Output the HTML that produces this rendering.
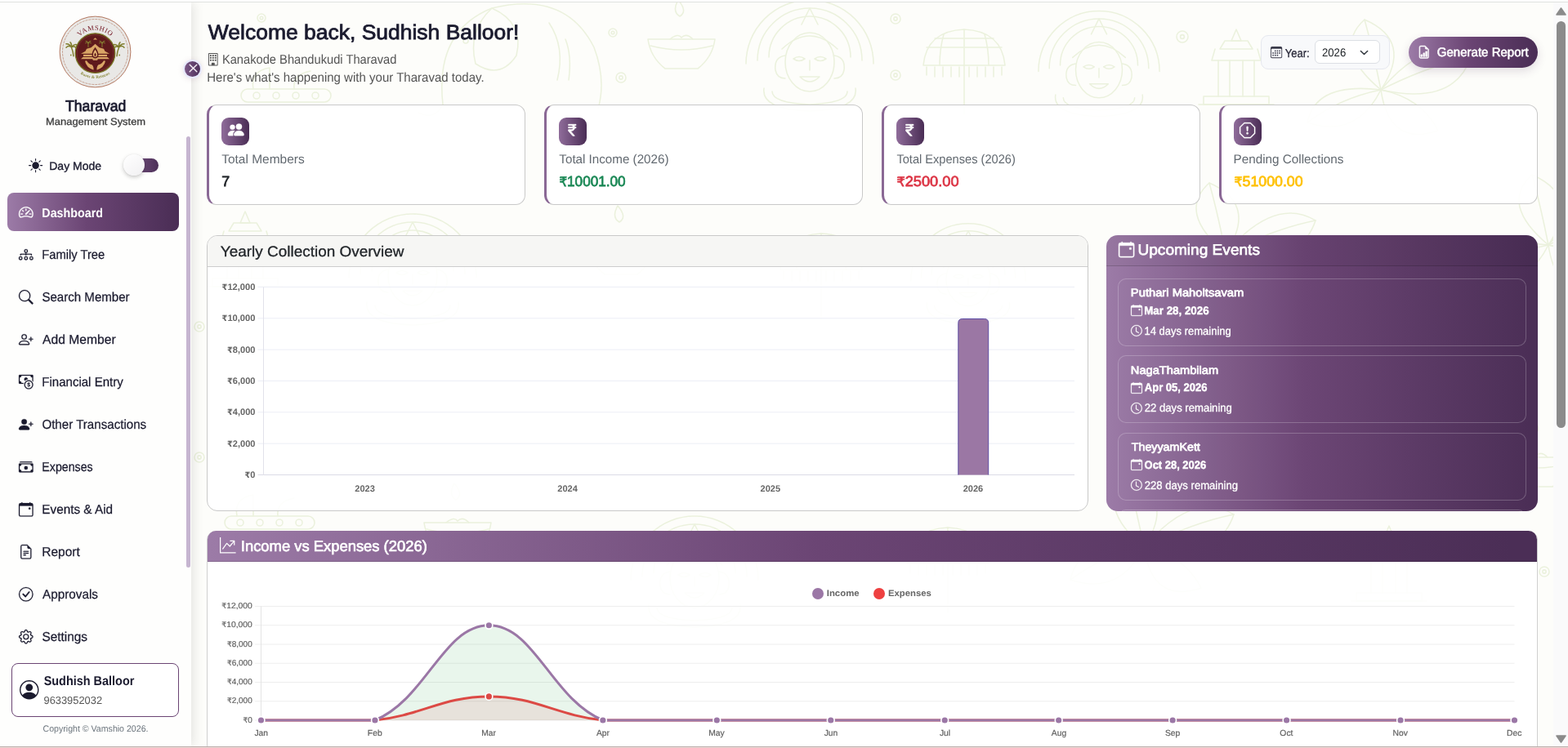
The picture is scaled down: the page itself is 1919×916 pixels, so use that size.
<!DOCTYPE html>
<html lang="en"><head><meta charset="utf-8"><title>Tharavad Management System - Dashboard</title>
<style>
*{box-sizing:border-box;margin:0;padding:0}
html,body{width:1919px;height:916px;overflow:hidden;background:#fdfdfb}
body{font-family:"Liberation Sans","DejaVu Sans",sans-serif;}
#app{position:relative;width:1919px;height:916px;overflow:hidden;background:#fdfdfb}
.a{position:absolute}
.t{position:absolute;white-space:nowrap;line-height:1;transform-origin:0 0;text-rendering:geometricPrecision}
.ic{position:absolute;display:block;overflow:visible}
.g{background:linear-gradient(90deg,#9c7ba7 0%,#6b4574 46%,#4b2e56 98%)}
.rs{font-family:"DejaVu Sans",sans-serif}
</style></head>
<body><div id="app">
<div class="a" id="main-bg" style="left:234px;top:3px;width:1667px;height:911px;background:#fdfdfa"></div>
<svg class="a" style="left:234px;top:3px;width:1667px;height:911px" viewBox="234 3 1667 911" fill="none" stroke="#e9f0d9" stroke-width="1.6" stroke-linecap="round" stroke-linejoin="round" opacity="0.85"><g transform="translate(350,117)"><rect x="-55" y="-8" width="110" height="16" rx="8"/><circle cx="-36" cy="0" r="4"/><circle cx="-12" cy="0" r="4"/><circle cx="12" cy="0" r="4"/><circle cx="36" cy="0" r="4"/><path d="M-40 -8 Q-44 -30 -20 -34 M-20 -8 V-34 M10 -8 Q8 -26 30 -30"/></g><g transform="translate(632,58)"><path d="M-90 70 Q-100 -20 -30 -48 Q60 -70 95 0 Q110 40 100 75"/><path d="M-30 -48 Q-60 -20 -50 20 Q-20 40 0 10 Q10 -30 -30 -48"/><path d="M40 -30 q20 30 10 70 M60 -10 q8 20 4 50"/><path d="M-90 70 q-10 20 -30 10"/><circle cx="-62" cy="-8" r="3"/></g><g transform="translate(834,48)"><path d="M-41 0 H41 Q38 22 20 36 H-20 Q-38 22 -41 0 Z"/><path d="M-38 8 Q0 18 38 8"/><path d="M-14 0 Q-4 -8 0 -2 Q6 -8 14 0"/><path d="M-4 -48 q-8 14 2 20 q10 -6 -2 -20z"/></g><g transform="translate(991,68) scale(1.0)"><ellipse cx="0" cy="8" rx="30" ry="36"/><path d="M-78 10 A78 78 0 0 1 78 10"/><path d="M-64 6 A64 64 0 0 1 64 6"/><path d="M-50 2 A50 50 0 0 1 50 2"/><path d="M-34 -8 Q0 -40 34 -8"/><path d="M-10 -38 L0 -58 L10 -38"/><path d="M-30 0 q-14 2 -12 18 q2 10 12 10 M30 0 q14 2 12 18 q-2 10 -12 10"/><path d="M-20 4 q7 -5 14 0 q-7 5 -14 0 M6 4 q7 -5 14 0 q-7 5 -14 0"/><path d="M-12 26 H12 Q0 38 -12 26"/><path d="M0 6 v12"/><path d="M-56 40 Q-60 66 0 68 Q60 66 56 40"/><path d="M-46 44 Q-46 58 0 60 Q46 58 46 44"/></g><g transform="translate(1180,80)"><path d="M-50 0 Q-46 -42 0 -44 Q46 -42 50 0 Z"/><path d="M0 -44 V0 M-25 -38 Q-30 -20 -30 0 M25 -38 Q30 -20 30 0 M-46 -22 H46 M-36 -33 H36"/><path d="M-46 2 v10 M-36 2 v12 M-26 2 v12 M-16 2 v12 M-6 2 v12 M6 2 v12 M16 2 v12 M26 2 v12 M36 2 v12 M46 2 v10"/><path d="M0 0 V60"/></g><g transform="translate(1345,78) scale(0.95)"><ellipse cx="0" cy="8" rx="30" ry="36"/><path d="M-78 10 A78 78 0 0 1 78 10"/><path d="M-64 6 A64 64 0 0 1 64 6"/><path d="M-50 2 A50 50 0 0 1 50 2"/><path d="M-34 -8 Q0 -40 34 -8"/><path d="M-10 -38 L0 -58 L10 -38"/><path d="M-30 0 q-14 2 -12 18 q2 10 12 10 M30 0 q14 2 12 18 q-2 10 -12 10"/><path d="M-20 4 q7 -5 14 0 q-7 5 -14 0 M6 4 q7 -5 14 0 q-7 5 -14 0"/><path d="M-12 26 H12 Q0 38 -12 26"/><path d="M0 6 v12"/><path d="M-56 40 Q-60 66 0 68 Q60 66 56 40"/><path d="M-46 44 Q-46 58 0 60 Q46 58 46 44"/></g><g transform="translate(1513,82)"><path d="M0 -46 l-6 14 h12z"/><path d="M-14 -32 h28 l6 10 h-40z"/><path d="M-26 -22 L-30 -8 H30 L26 -22"/><path d="M-22 -8 V36 M22 -8 V36 M-8 -8 V36 M8 -8 V36"/><path d="M-40 36 H40 V46 H-40 Z"/><path d="M-46 46 H46"/></g><g transform="translate(1690,110)"><path d="M0 0 Q-60 -50 -20 -86 Q40 -60 0 0"/><path d="M0 0 Q-10 -50 -20 -86"/><path d="M0 0 Q60 -70 110 -40 Q90 20 0 0"/><path d="M0 0 Q60 -30 110 -40"/><path d="M0 0 Q-80 -10 -90 40 Q-30 60 0 0"/><path d="M0 0 Q-50 10 -90 40"/><path d="M0 0 Q50 10 70 50 Q10 70 0 0"/></g><circle cx="1096" cy="23" r="6"/><circle cx="1096" cy="23" r="2.1"/><circle cx="1096" cy="92" r="6"/><circle cx="1096" cy="92" r="2.1"/><circle cx="1447" cy="45" r="7"/><circle cx="1447" cy="45" r="2.4"/><circle cx="320" cy="22" r="5"/><circle cx="320" cy="22" r="1.8"/><circle cx="750" cy="40" r="5"/><circle cx="750" cy="40" r="1.8"/><circle cx="760" cy="95" r="6"/><circle cx="760" cy="95" r="2.1"/><g transform="translate(505,330) scale(1.0)"><ellipse cx="0" cy="8" rx="30" ry="36"/><path d="M-78 10 A78 78 0 0 1 78 10"/><path d="M-64 6 A64 64 0 0 1 64 6"/><path d="M-50 2 A50 50 0 0 1 50 2"/><path d="M-34 -8 Q0 -40 34 -8"/><path d="M-10 -38 L0 -58 L10 -38"/><path d="M-30 0 q-14 2 -12 18 q2 10 12 10 M30 0 q14 2 12 18 q-2 10 -12 10"/><path d="M-20 4 q7 -5 14 0 q-7 5 -14 0 M6 4 q7 -5 14 0 q-7 5 -14 0"/><path d="M-12 26 H12 Q0 38 -12 26"/><path d="M0 6 v12"/><path d="M-56 40 Q-60 66 0 68 Q60 66 56 40"/><path d="M-46 44 Q-46 58 0 60 Q46 58 46 44"/></g><g transform="translate(760,300)"><path d="M-41 0 H41 Q38 22 20 36 H-20 Q-38 22 -41 0 Z"/><path d="M-38 8 Q0 18 38 8"/><path d="M-14 0 Q-4 -8 0 -2 Q6 -8 14 0"/><path d="M-4 -48 q-8 14 2 20 q10 -6 -2 -20z"/></g><g transform="translate(1005,330)"><path d="M-50 0 Q-46 -42 0 -44 Q46 -42 50 0 Z"/><path d="M0 -44 V0 M-25 -38 Q-30 -20 -30 0 M25 -38 Q30 -20 30 0 M-46 -22 H46 M-36 -33 H36"/><path d="M-46 2 v10 M-36 2 v12 M-26 2 v12 M-16 2 v12 M-6 2 v12 M6 2 v12 M16 2 v12 M26 2 v12 M36 2 v12 M46 2 v10"/><path d="M0 0 V60"/></g><g transform="translate(1185,335) scale(0.9)"><ellipse cx="0" cy="8" rx="30" ry="36"/><path d="M-78 10 A78 78 0 0 1 78 10"/><path d="M-64 6 A64 64 0 0 1 64 6"/><path d="M-50 2 A50 50 0 0 1 50 2"/><path d="M-34 -8 Q0 -40 34 -8"/><path d="M-10 -38 L0 -58 L10 -38"/><path d="M-30 0 q-14 2 -12 18 q2 10 12 10 M30 0 q14 2 12 18 q-2 10 -12 10"/><path d="M-20 4 q7 -5 14 0 q-7 5 -14 0 M6 4 q7 -5 14 0 q-7 5 -14 0"/><path d="M-12 26 H12 Q0 38 -12 26"/><path d="M0 6 v12"/><path d="M-56 40 Q-60 66 0 68 Q60 66 56 40"/><path d="M-46 44 Q-46 58 0 60 Q46 58 46 44"/></g><g transform="translate(1500,310)"><path d="M0 0 Q-60 -50 -20 -86 Q40 -60 0 0"/><path d="M0 0 Q-10 -50 -20 -86"/><path d="M0 0 Q60 -70 110 -40 Q90 20 0 0"/><path d="M0 0 Q60 -30 110 -40"/><path d="M0 0 Q-80 -10 -90 40 Q-30 60 0 0"/><path d="M0 0 Q-50 10 -90 40"/><path d="M0 0 Q50 10 70 50 Q10 70 0 0"/></g><g transform="translate(300,305)"><path d="M0 -46 l-6 14 h12z"/><path d="M-14 -32 h28 l6 10 h-40z"/><path d="M-26 -22 L-30 -8 H30 L26 -22"/><path d="M-22 -8 V36 M22 -8 V36 M-8 -8 V36 M8 -8 V36"/><path d="M-40 36 H40 V46 H-40 Z"/><path d="M-46 46 H46"/></g><g transform="translate(330,640)"><rect x="-55" y="-8" width="110" height="16" rx="8"/><circle cx="-36" cy="0" r="4"/><circle cx="-12" cy="0" r="4"/><circle cx="12" cy="0" r="4"/><circle cx="36" cy="0" r="4"/><path d="M-40 -8 Q-44 -30 -20 -34 M-20 -8 V-34 M10 -8 Q8 -26 30 -30"/></g><g transform="translate(560,640)"><path d="M-41 0 H41 Q38 22 20 36 H-20 Q-38 22 -41 0 Z"/><path d="M-38 8 Q0 18 38 8"/><path d="M-14 0 Q-4 -8 0 -2 Q6 -8 14 0"/><path d="M-4 -48 q-8 14 2 20 q10 -6 -2 -20z"/></g><g transform="translate(850,700) scale(1.0)"><ellipse cx="0" cy="8" rx="30" ry="36"/><path d="M-78 10 A78 78 0 0 1 78 10"/><path d="M-64 6 A64 64 0 0 1 64 6"/><path d="M-50 2 A50 50 0 0 1 50 2"/><path d="M-34 -8 Q0 -40 34 -8"/><path d="M-10 -38 L0 -58 L10 -38"/><path d="M-30 0 q-14 2 -12 18 q2 10 12 10 M30 0 q14 2 12 18 q-2 10 -12 10"/><path d="M-20 4 q7 -5 14 0 q-7 5 -14 0 M6 4 q7 -5 14 0 q-7 5 -14 0"/><path d="M-12 26 H12 Q0 38 -12 26"/><path d="M0 6 v12"/><path d="M-56 40 Q-60 66 0 68 Q60 66 56 40"/><path d="M-46 44 Q-46 58 0 60 Q46 58 46 44"/></g><g transform="translate(1160,690)"><path d="M-50 0 Q-46 -42 0 -44 Q46 -42 50 0 Z"/><path d="M0 -44 V0 M-25 -38 Q-30 -20 -30 0 M25 -38 Q30 -20 30 0 M-46 -22 H46 M-36 -33 H36"/><path d="M-46 2 v10 M-36 2 v12 M-26 2 v12 M-16 2 v12 M-6 2 v12 M6 2 v12 M16 2 v12 M26 2 v12 M36 2 v12 M46 2 v10"/><path d="M0 0 V60"/></g><g transform="translate(1400,670)"><path d="M0 0 Q-60 -50 -20 -86 Q40 -60 0 0"/><path d="M0 0 Q-10 -50 -20 -86"/><path d="M0 0 Q60 -70 110 -40 Q90 20 0 0"/><path d="M0 0 Q60 -30 110 -40"/><path d="M0 0 Q-80 -10 -90 40 Q-30 60 0 0"/><path d="M0 0 Q-50 10 -90 40"/><path d="M0 0 Q50 10 70 50 Q10 70 0 0"/></g><g transform="translate(1700,690)"><path d="M0 -46 l-6 14 h12z"/><path d="M-14 -32 h28 l6 10 h-40z"/><path d="M-26 -22 L-30 -8 H30 L26 -22"/><path d="M-22 -8 V36 M22 -8 V36 M-8 -8 V36 M8 -8 V36"/><path d="M-40 36 H40 V46 H-40 Z"/><path d="M-46 46 H46"/></g><g transform="translate(1880,560)"><path d="M-41 0 H41 Q38 22 20 36 H-20 Q-38 22 -41 0 Z"/><path d="M-38 8 Q0 18 38 8"/><path d="M-14 0 Q-4 -8 0 -2 Q6 -8 14 0"/><path d="M-4 -48 q-8 14 2 20 q10 -6 -2 -20z"/></g><g transform="translate(1895,300)"><path d="M0 0 Q-60 -50 -20 -86 Q40 -60 0 0"/><path d="M0 0 Q-10 -50 -20 -86"/><path d="M0 0 Q60 -70 110 -40 Q90 20 0 0"/><path d="M0 0 Q60 -30 110 -40"/><path d="M0 0 Q-80 -10 -90 40 Q-30 60 0 0"/><path d="M0 0 Q-50 10 -90 40"/><path d="M0 0 Q50 10 70 50 Q10 70 0 0"/></g><circle cx="244" cy="400" r="6"/><circle cx="244" cy="400" r="2.1"/><circle cx="244" cy="560" r="6"/><circle cx="244" cy="560" r="2.1"/><circle cx="1890" cy="700" r="6"/><circle cx="1890" cy="700" r="2.1"/></svg>
<div class="a" id="sidebar" style="left:0;top:3px;width:234px;height:911px;background:#fefefd;box-shadow:3px 0 13px rgba(0,0,0,.10)"></div>
<div class="a" style="left:228px;top:167px;width:5px;height:528px;border-radius:3px;background:#c6b5d0"></div>
<svg class="a" id="logo" style="left:72.1px;top:19.1px;width:89px;height:89px" viewBox="-44.5 -44.5 89 89" >
<defs><path id="arcT" d="M -25.3 -9.500 A 27.200 27.200 0 0 1 25.3 -9.500"/><path id="arcB" d="M -25 20.800 A 32.500 32.500 0 0 0 25 20.800"/></defs>
<circle r="43.4" fill="#e9e8e6" stroke="#a9684d" stroke-width="0.9"/>
<circle r="40" fill="none" stroke="#b0745a" stroke-width="0.6" stroke-dasharray="3 1"/>
<circle cy="1.6" r="24.3" fill="#5f1a1c" stroke="#7c7b2a" stroke-width="1.3"/>
<circle cy="1.6" r="22.3" fill="none" stroke="#7a3530" stroke-width="0.8"/>
<text font-family="'Liberation Serif',serif" font-size="8.6" fill="#7a2430" text-anchor="middle" letter-spacing="0.5"><textPath href="#arcT" startOffset="50%">VAMSHIO</textPath></text>
<text font-family="'Liberation Serif',serif" font-size="5" font-weight="700" fill="#8a8a3c" text-anchor="middle" letter-spacing="0.15"><textPath href="#arcB" startOffset="50%">Roots &amp; Returns</textPath></text>
<g transform="translate(0,2.2)">
<g fill="#d9a566">
<path d="M0 -12 L5 -7.500 L10.500 -6 L12 -3 L17.500 0 L-17.500 0 L-12 -3 L-10.500 -6 L-5 -7.500 Z"/>
<rect x="-14.500" y="1.2" width="29" height="2.2"/>
<path d="M-17.500 6.600 L-15 4.300 H15 L17.500 6.600 Z"/>
<path d="M-12.500 9 Q-11 17 -2 20 Q-1.500 16 -4 13.500 Q-8 13 -10.500 8.500 Z"/>
<path d="M12.500 9 Q11 17 2 20 Q1.500 16 4 13.500 Q8 13 10.500 8.500 Z"/>
<path d="M0 -19.500 l2.600 2.400 h-5.200 z"/>
</g>
<path d="M0 -8 Q5.500 -1 3.600 4 Q0 7.500 -3.600 4 Q-5.500 -1 0 -8Z" fill="#5f1a1c"/>
<path d="M0 -5 Q3.500 0 2.300 3 Q0 5.200 -2.300 3 Q-3.500 0 0 -5Z" fill="#e8b877"/>
<path d="M0 -1.500 Q1.500 1 1 2.500 Q0 3.500 -1 2.500 Q-1.500 1 0 -1.500Z" fill="#5f1a1c"/>
<path d="M-3.500 6.500 H3.500 L2.500 8 H-2.500 Z" fill="#e8b877"/>
<g fill="none" stroke="#7f7d2c" stroke-width="1.5" stroke-linecap="round">
<path d="M-26.500 3 Q-27 -3 -29 -7.500"/><path d="M-29 -8 q-4 -2.500 -6.500 0.500 M-29 -8 q-3 -4.500 -6.500 -4 M-29 -8 q0.500 -4 -1.500 -6 M-29 -8 q3.500 -2 5.500 1 M-29 -8 q3 -4 6 -3"/>
<path d="M26.500 3 Q27 -3 29 -7.500"/><path d="M29 -8 q4 -2.500 6.500 0.500 M29 -8 q3 -4.500 6.500 -4 M29 -8 q-0.500 -4 1.500 -6 M29 -8 q-3.500 -2 -5.500 1 M29 -8 q-3 -4 -6 -3"/>
</g>
<g fill="none" stroke="#8a8a33" stroke-width="0.9" stroke-linecap="round">
<path d="M-8.500 -8 v-5 m0 0 q-2 -2 -3.500 0 m3.500 0 q2 -2 3.500 0 m-3.500 0 q-1 -3 -3 -2.500 m3 2.500 q1 -3 3 -2.500"/>
<path d="M8.500 -8 v-5 m0 0 q-2 -2 -3.500 0 m3.500 0 q2 -2 3.500 0 m-3.500 0 q-1 -3 -3 -2.500 m3 2.500 q1 -3 3 -2.500"/>
</g>
<circle cx="-29.700" cy="1.800" r="0.9" fill="#8a8a33"/><circle cx="29.700" cy="1.800" r="0.9" fill="#8a8a33"/>
</g>
</svg>
<div class="t" style="left:80px;top:121.09px;font-size:18.8px;color:#1a1a2e;-webkit-text-stroke:0.75px #1a1a2e;transform:translateX(0.06px) scaleX(0.9368);">Tharavad</div>
<div class="t" style="left:56px;top:142.59px;font-size:12.3px;color:#3d3d3d;-webkit-text-stroke:0.30px #3d3d3d;transform:translateX(0.10px) scaleX(1.0498);">Management System</div>
<svg class="ic" style="left:35.20px;top:194.00px;width:17.2px;height:17.2px;" viewBox="0 0 16 16" fill="#1a1a2e"><path d="M12 8a4 4 0 1 1-8 0 4 4 0 0 1 8 0M8 0a.5.5 0 0 1 .5.5v2a.5.5 0 0 1-1 0v-2A.5.5 0 0 1 8 0m0 13a.5.5 0 0 1 .5.5v2a.5.5 0 0 1-1 0v-2A.5.5 0 0 1 8 13m8-5a.5.5 0 0 1-.5.5h-2a.5.5 0 0 1 0-1h2a.5.5 0 0 1 .5.5M3 8a.5.5 0 0 1-.5.5h-2a.5.5 0 0 1 0-1h2A.5.5 0 0 1 3 8m10.657-5.657a.5.5 0 0 1 0 .707l-1.414 1.415a.5.5 0 1 1-.707-.708l1.414-1.414a.5.5 0 0 1 .707 0m-9.193 9.193a.5.5 0 0 1 0 .707L3.05 13.657a.5.5 0 0 1-.707-.707l1.414-1.414a.5.5 0 0 1 .707 0m9.193 2.121a.5.5 0 0 1-.707 0l-1.414-1.414a.5.5 0 0 1 .707-.707l1.414 1.414a.5.5 0 0 1 0 .707M4.464 4.465a.5.5 0 0 1-.707 0L2.343 3.05a.5.5 0 1 1 .707-.707l1.414 1.414a.5.5 0 0 1 0 .708"/></svg>
<div class="t" style="left:60px;top:197.23px;font-size:13.9px;color:#1a1a2e;-webkit-text-stroke:0.35px #1a1a2e;transform:translateX(0.23px) scaleX(1.0080);">Day Mode</div>
<div class="a" style="left:161px;top:193.5px;width:33px;height:17.500px;border-radius:9px;background:linear-gradient(90deg,#7a5685,#4c2f57)"></div>
<div class="a" style="left:151px;top:189.100px;width:25.800px;height:25.800px;border-radius:50%;background:linear-gradient(145deg,#ffffff,#f1f0f2);box-shadow:0 2px 5px rgba(0,0,0,.22),0 0 1px rgba(0,0,0,.15)"></div>
<div class="a g" style="left:9px;top:236px;width:210px;height:47px;border-radius:8px"></div>
<svg class="ic" style="left:23.20px;top:250.50px;width:17.6px;height:17.6px;stroke:#fff;stroke-width:0.3;" viewBox="0 0 16 16" fill="#fff"><path d="M8 4a.5.5 0 0 1 .5.5V6a.5.5 0 0 1-1 0V4.5A.5.5 0 0 1 8 4M3.732 5.732a.5.5 0 0 1 .707 0l.915.914a.5.5 0 1 1-.708.708l-.914-.915a.5.5 0 0 1 0-.707M2 10a.5.5 0 0 1 .5-.5h1.586a.5.5 0 0 1 0 1H2.5A.5.5 0 0 1 2 10m9.500 0a.5.5 0 0 1 .5-.5h1.500a.5.5 0 0 1 0 1H12a.5.5 0 0 1-.5-.5m.754-4.246a.39.39 0 0 0-.527-.02L7.547 9.31a.91.91 0 1 0 1.302 1.258l3.434-4.297a.39.39 0 0 0-.029-.518z"/><path fill-rule="evenodd" d="M0 10a8 8 0 1 1 15.547 2.661c-.442 1.253-1.845 1.602-2.932 1.25C11.309 13.488 9.475 13 8 13c-1.474 0-3.31.488-4.615.911-1.087.352-2.49.003-2.932-1.25A8 8 0 0 1 0 10m8-7a7 7 0 0 0-6.603 9.329c.203.575.923.876 1.68.63C4.397 12.533 6.358 12 8 12s3.604.532 4.923.96c.757.245 1.477-.056 1.68-.631A7 7 0 0 0 8 3"/></svg>
<div class="t" style="left:51px;top:253.79px;font-size:15.6px;color:#fff;font-weight:700;transform:translateX(0.34px) scaleX(0.9158);">Dashboard</div>
<svg class="ic" style="left:23.20px;top:302.50px;width:17.6px;height:17.6px;stroke:#1a1a2e;stroke-width:0.2;" viewBox="0 0 16 16" fill="#1a1a2e"><path fill-rule="evenodd" d="M6 3.5A1.5 1.5 0 0 1 7.5 2h1A1.5 1.5 0 0 1 10 3.5v1A1.5 1.5 0 0 1 8.5 6v1H14a.5.5 0 0 1 .5.5v1a.5.5 0 0 1-1 0V8h-5v.5a.5.5 0 0 1-1 0V8h-5v.5a.5.5 0 0 1-1 0v-1A.5.5 0 0 1 2 7h5.5V6A1.5 1.5 0 0 1 6 4.5zM8.5 5a.5.5 0 0 0 .5-.5v-1a.5.5 0 0 0-.5-.5h-1a.5.5 0 0 0-.5.5v1a.5.5 0 0 0 .5.5zM0 11.5A1.5 1.5 0 0 1 1.5 10h1A1.5 1.5 0 0 1 4 11.5v1A1.5 1.5 0 0 1 2.5 14h-1A1.5 1.5 0 0 1 0 12.5zm1.5-.5a.5.5 0 0 0-.5.5v1a.5.5 0 0 0 .5.5h1a.5.5 0 0 0 .5-.5v-1a.5.5 0 0 0-.5-.5zm4.5.5A1.5 1.5 0 0 1 7.5 10h1a1.5 1.5 0 0 1 1.5 1.5v1A1.5 1.5 0 0 1 8.5 14h-1A1.5 1.5 0 0 1 6 12.5zm1.5-.5a.5.5 0 0 0-.5.5v1a.5.5 0 0 0 .5.5h1a.5.5 0 0 0 .5-.5v-1a.5.5 0 0 0-.5-.5zm4.5.5a1.5 1.5 0 0 1 1.5-1.5h1a1.5 1.5 0 0 1 1.5 1.5v1a1.5 1.5 0 0 1-1.5 1.5h-1a1.5 1.5 0 0 1-1.5-1.5zm1.5-.5a.5.5 0 0 0-.5.5v1a.5.5 0 0 0 .5.5h1a.5.5 0 0 0 .5-.5v-1a.5.5 0 0 0-.5-.5z"/></svg>
<div class="t" style="left:51px;top:304.63px;font-size:15.8px;color:#1a1a2e;-webkit-text-stroke:0.25px #1a1a2e;transform:translateX(0.31px) scaleX(0.9323);">Family Tree</div>
<svg class="ic" style="left:23.20px;top:354.50px;width:17.6px;height:17.6px;stroke:#1a1a2e;stroke-width:0.2;" viewBox="0 0 16 16" fill="#1a1a2e"><path d="M11.742 10.344a6.5 6.5 0 1 0-1.397 1.398h-.001q.044.06.098.115l3.85 3.85a1 1 0 0 0 1.415-1.414l-3.85-3.85a1 1 0 0 0-.115-.1zM12 6.5a5.5 5.5 0 1 1-11 0 5.5 5.5 0 0 1 11 0"/></svg>
<div class="t" style="left:51px;top:356.63px;font-size:15.8px;color:#1a1a2e;-webkit-text-stroke:0.25px #1a1a2e;transform:translateX(0.43px) scaleX(0.9538);">Search Member</div>
<svg class="ic" style="left:23.20px;top:406.50px;width:17.6px;height:17.6px;stroke:#1a1a2e;stroke-width:0.2;" viewBox="0 0 16 16" fill="#1a1a2e"><path d="M6 8a3 3 0 1 0 0-6 3 3 0 0 0 0 6m2-3a2 2 0 1 1-4 0 2 2 0 0 1 4 0m4 8c0 1-1 1-1 1H1s-1 0-1-1 1-4 6-4 6 3 6 4m-1-.004c-.001-.246-.154-.986-.832-1.664C9.516 10.68 8.289 10 6 10s-3.516.68-4.168 1.332c-.678.678-.83 1.418-.832 1.664z"/><path fill-rule="evenodd" d="M13.5 5a.5.5 0 0 1 .5.5V7h1.5a.5.5 0 0 1 0 1H14v1.5a.5.5 0 0 1-1 0V8h-1.5a.5.5 0 0 1 0-1H13V5.5a.5.5 0 0 1 .5-.5"/></svg>
<div class="t" style="left:52px;top:408.63px;font-size:15.8px;color:#1a1a2e;-webkit-text-stroke:0.25px #1a1a2e;transform:translateX(0.09px) scaleX(0.9901);">Add Member</div>
<svg class="ic" style="left:23.20px;top:458.50px;width:17.6px;height:17.6px;stroke:#1a1a2e;stroke-width:0.2;" viewBox="0 0 16 16" fill="#1a1a2e"><path fill-rule="evenodd" d="M11 15a4 4 0 1 0 0-8 4 4 0 0 0 0 8m5-4a5 5 0 1 1-10 0 5 5 0 0 1 10 0"/><path d="M9.438 11.944c.047.596.518 1.06 1.363 1.116v.44h.375v-.443c.875-.061 1.386-.529 1.386-1.207 0-.618-.39-.936-1.09-1.1l-.296-.07v-1.2c.376.043.614.248.671.532h.658c-.047-.575-.54-1.024-1.329-1.073V8.5h-.375v.45c-.747.073-1.255.522-1.255 1.158 0 .562.378.92 1.007 1.066l.248.061v1.272c-.384-.058-.639-.27-.696-.563h-.668zm1.36-1.354c-.369-.085-.569-.26-.569-.522 0-.294.216-.514.572-.578v1.1zm.432.746c.449.104.655.272.655.569 0 .339-.257.571-.709.614v-1.195z"/><path d="M1 0a1 1 0 0 0-1 1v8a1 1 0 0 0 1 1h4.083q.088-.517.258-1H3a2 2 0 0 0-2-2V3a2 2 0 0 0 2-2h10a2 2 0 0 0 2 2v3.528c.38.34.717.728 1 1.154V1a1 1 0 0 0-1-1z"/><path d="M9.998 5.083 10 5a2 2 0 1 0-3.132 1.65 6 6 0 0 1 3.13-1.567"/></svg>
<div class="t" style="left:51px;top:460.63px;font-size:15.8px;color:#1a1a2e;-webkit-text-stroke:0.25px #1a1a2e;transform:translateX(0.29px) scaleX(0.9516);">Financial Entry</div>
<svg class="ic" style="left:23.20px;top:510.50px;width:17.6px;height:17.6px;stroke:#1a1a2e;stroke-width:0.2;" viewBox="0 0 16 16" fill="#1a1a2e"><path d="M1 14s-1 0-1-1 1-4 6-4 6 3 6 4-1 1-1 1zm5-6a3 3 0 1 0 0-6 3 3 0 0 0 0 6"/><path fill-rule="evenodd" d="M13.5 5a.5.5 0 0 1 .5.5V7h1.5a.5.5 0 0 1 0 1H14v1.5a.5.5 0 0 1-1 0V8h-1.5a.5.5 0 0 1 0-1H13V5.5a.5.5 0 0 1 .5-.5"/></svg>
<div class="t" style="left:51px;top:512.63px;font-size:15.8px;color:#1a1a2e;-webkit-text-stroke:0.25px #1a1a2e;transform:translateX(0.40px) scaleX(0.9570);">Other Transactions</div>
<svg class="ic" style="left:23.20px;top:562.50px;width:17.6px;height:17.6px;stroke:#1a1a2e;stroke-width:0.2;" viewBox="0 0 16 16" fill="#1a1a2e"><path d="M1 3a1 1 0 0 1 1-1h12a1 1 0 0 1 1 1zm7 8a2 2 0 1 0 0-4 2 2 0 0 0 0 4"/><path d="M0 5a1 1 0 0 1 1-1h14a1 1 0 0 1 1 1v8a1 1 0 0 1-1 1H1a1 1 0 0 1-1-1zm3 0a2 2 0 0 1-2 2v4a2 2 0 0 1 2 2h10a2 2 0 0 1 2-2V7a2 2 0 0 1-2-2z"/></svg>
<div class="t" style="left:51px;top:564.63px;font-size:15.8px;color:#1a1a2e;-webkit-text-stroke:0.25px #1a1a2e;transform:translateX(0.35px) scaleX(0.8973);">Expenses</div>
<svg class="ic" style="left:23.20px;top:614.50px;width:17.6px;height:17.6px;stroke:#1a1a2e;stroke-width:0.2;" viewBox="0 0 16 16" fill="#1a1a2e"><path d="M11 6.5a.5.5 0 0 1 .5-.5h1a.5.5 0 0 1 .5.5v1a.5.5 0 0 1-.5.5h-1a.5.5 0 0 1-.5-.5z"/><path d="M3.5 0a.5.5 0 0 1 .5.5V1h8V.5a.5.5 0 0 1 1 0V1h1a2 2 0 0 1 2 2v11a2 2 0 0 1-2 2H2a2 2 0 0 1-2-2V3a2 2 0 0 1 2-2h1V.5a.5.5 0 0 1 .5-.5M1 4v10a1 1 0 0 0 1 1h12a1 1 0 0 0 1-1V4z"/></svg>
<div class="t" style="left:51px;top:616.63px;font-size:15.8px;color:#1a1a2e;-webkit-text-stroke:0.25px #1a1a2e;transform:translateX(0.27px) scaleX(0.9690);">Events &amp; Aid</div>
<svg class="ic" style="left:23.20px;top:666.50px;width:17.6px;height:17.6px;stroke:#1a1a2e;stroke-width:0.2;" viewBox="0 0 16 16" fill="#1a1a2e"><path d="M5.5 7a.5.5 0 0 0 0 1h5a.5.5 0 0 0 0-1zM5 9.5a.5.5 0 0 1 .5-.5h5a.5.5 0 0 1 0 1h-5a.5.5 0 0 1-.5-.5m0 2a.5.5 0 0 1 .5-.5h2a.5.5 0 0 1 0 1h-2a.5.5 0 0 1-.5-.5"/><path d="M9.5 0H4a2 2 0 0 0-2 2v12a2 2 0 0 0 2 2h8a2 2 0 0 0 2-2V4.5zm0 1v2A1.5 1.5 0 0 0 11 4.5h2V14a1 1 0 0 1-1 1H4a1 1 0 0 1-1-1V2a1 1 0 0 1 1-1z"/></svg>
<div class="t" style="left:51px;top:668.63px;font-size:15.8px;color:#1a1a2e;-webkit-text-stroke:0.25px #1a1a2e;transform:translateX(0.25px) scaleX(0.9792);">Report</div>
<svg class="ic" style="left:23.20px;top:718.50px;width:17.6px;height:17.6px;stroke:#1a1a2e;stroke-width:0.2;" viewBox="0 0 16 16" fill="#1a1a2e"><path d="M8 15A7 7 0 1 1 8 1a7 7 0 0 1 0 14m0 1A8 8 0 1 0 8 0a8 8 0 0 0 0 16"/><path d="m10.97 4.97-.02.022-3.473 4.425-2.093-2.094a.75.75 0 0 0-1.06 1.06L6.97 11.03a.75.75 0 0 0 1.079-.02l3.992-4.99a.75.75 0 0 0-1.071-1.05"/></svg>
<div class="t" style="left:52px;top:720.63px;font-size:15.8px;color:#1a1a2e;-webkit-text-stroke:0.25px #1a1a2e;transform:translateX(0.09px) scaleX(0.9657);">Approvals</div>
<svg class="ic" style="left:23.20px;top:770.50px;width:17.6px;height:17.6px;stroke:#1a1a2e;stroke-width:0.2;" viewBox="0 0 16 16" fill="#1a1a2e"><path d="M8 4.754a3.246 3.246 0 1 0 0 6.492 3.246 3.246 0 0 0 0-6.492M5.754 8a2.246 2.246 0 1 1 4.492 0 2.246 2.246 0 0 1-4.492 0"/><path d="M9.796 1.343c-.527-1.79-3.065-1.79-3.592 0l-.094.319a.873.873 0 0 1-1.255.52l-.292-.16c-1.64-.892-3.433.902-2.54 2.541l.159.292a.873.873 0 0 1-.52 1.255l-.319.094c-1.79.527-1.79 3.065 0 3.592l.319.094a.873.873 0 0 1 .52 1.255l-.16.292c-.892 1.64.901 3.434 2.541 2.54l.292-.159a.873.873 0 0 1 1.255.52l.094.319c.527 1.79 3.065 1.79 3.592 0l.094-.319a.873.873 0 0 1 1.255-.52l.292.16c1.64.893 3.434-.902 2.54-2.541l-.159-.292a.873.873 0 0 1 .52-1.255l.319-.094c1.79-.527 1.79-3.065 0-3.592l-.319-.094a.873.873 0 0 1-.52-1.255l.16-.292c.893-1.64-.902-3.433-2.541-2.54l-.292.159a.873.873 0 0 1-1.255-.52zm-2.633.283c.246-.835 1.428-.835 1.674 0l.094.319a1.873 1.873 0 0 0 2.693 1.115l.291-.16c.764-.415 1.6.42 1.184 1.185l-.159.292a1.873 1.873 0 0 0 1.116 2.692l.318.094c.835.246.835 1.428 0 1.674l-.319.094a1.873 1.873 0 0 0-1.115 2.693l.16.291c.415.764-.42 1.6-1.185 1.184l-.291-.159a1.873 1.873 0 0 0-2.693 1.116l-.094.318c-.246.835-1.428.835-1.674 0l-.094-.319a1.873 1.873 0 0 0-2.692-1.115l-.292.16c-.764.415-1.6-.42-1.184-1.185l.159-.291A1.873 1.873 0 0 0 1.945 8.93l-.319-.094c-.835-.246-.835-1.428 0-1.674l.319-.094A1.873 1.873 0 0 0 3.06 4.377l-.16-.292c-.415-.764.42-1.6 1.185-1.184l.292.159a1.873 1.873 0 0 0 2.692-1.115z"/></svg>
<div class="t" style="left:51px;top:772.63px;font-size:15.8px;color:#1a1a2e;-webkit-text-stroke:0.25px #1a1a2e;transform:translateX(0.42px) scaleX(0.9740);">Settings</div>
<div class="a" style="left:14px;top:812px;width:205px;height:65.800px;border:1.2px solid #6b4574;border-radius:8px;background:#fff"></div>
<svg class="ic" style="left:24.15px;top:832.95px;width:23.5px;height:23.5px;" viewBox="0 0 16 16" fill="#1a1a2e"><path d="M11 6a3 3 0 1 1-6 0 3 3 0 0 1 6 0"/><path fill-rule="evenodd" d="M0 8a8 8 0 1 1 16 0A8 8 0 0 1 0 8m8-7a7 7 0 0 0-5.468 11.37C3.242 11.226 4.805 10 8 10s4.757 1.225 5.468 2.37A7 7 0 0 0 8 1"/></svg>
<div class="t" style="left:53px;top:826.63px;font-size:15.8px;color:#1a1a2e;font-weight:700;transform:translateX(0.68px) scaleX(0.9134);">Sudhish Balloor</div>
<div class="t" style="left:53px;top:851.00px;font-size:13px;color:#555;transform:translateX(0.50px) scaleX(0.9895);">9633952032</div>
<div class="t" style="left:52px;top:887.69px;font-size:11px;color:#6c757d;transform:translateX(0.56px) scaleX(0.9630);">Copyright © Vamshio 2026.</div>
<div class="t" style="left:254px;top:27.58px;font-size:25.3px;color:#1a1a2e;-webkit-text-stroke:0.80px #1a1a2e;transform:translateX(0.80px) scaleX(1.0466);">Welcome back, Sudhish Balloor!</div>
<svg class="ic" style="left:253.20px;top:64.60px;width:15.6px;height:15.6px;" viewBox="0 0 16 16" fill="#555"><path d="M4 2.5a.5.5 0 0 1 .5-.5h1a.5.5 0 0 1 .5.5v1a.5.5 0 0 1-.5.5h-1a.5.5 0 0 1-.5-.5zm3 0a.5.5 0 0 1 .5-.5h1a.5.5 0 0 1 .5.5v1a.5.5 0 0 1-.5.5h-1a.5.5 0 0 1-.5-.5zm3.5-.5a.5.5 0 0 0-.5.5v1a.5.5 0 0 0 .5.5h1a.5.5 0 0 0 .5-.5v-1a.5.5 0 0 0-.5-.5zM4 5.5a.5.5 0 0 1 .5-.5h1a.5.5 0 0 1 .5.5v1a.5.5 0 0 1-.5.5h-1a.5.5 0 0 1-.5-.5zM7.5 5a.5.5 0 0 0-.5.5v1a.5.5 0 0 0 .5.5h1a.5.5 0 0 0 .5-.5v-1a.5.5 0 0 0-.5-.5zm2.500.5a.5.5 0 0 1 .5-.5h1a.5.5 0 0 1 .5.5v1a.5.5 0 0 1-.5.5h-1a.5.5 0 0 1-.5-.5zM4.5 8a.5.5 0 0 0-.5.5v1a.5.5 0 0 0 .5.5h1a.5.5 0 0 0 .5-.5v-1a.5.5 0 0 0-.5-.5zm2.500.5a.5.5 0 0 1 .5-.5h1a.5.5 0 0 1 .5.5v1a.5.5 0 0 1-.5.5h-1a.5.5 0 0 1-.5-.5zm3.500-.5a.5.5 0 0 0-.5.5v1a.5.5 0 0 0 .5.5h1a.5.5 0 0 0 .5-.5v-1a.5.5 0 0 0-.5-.5z"/><path d="M2 1a1 1 0 0 1 1-1h10a1 1 0 0 1 1 1v14a1 1 0 0 1-1 1H3a1 1 0 0 1-1-1zm11 0H3v14h3v-2.500a.5.5 0 0 1 .5-.5h3a.5.5 0 0 1 .5.5V15h3z"/></svg>
<div class="t" style="left:271px;top:65.63px;font-size:15.8px;color:#555;transform:translateX(0.90px) scaleX(0.9292);">Kanakode Bhandukudi Tharavad</div>
<div class="t" style="left:253px;top:87.63px;font-size:15.8px;color:#555;transform:translateX(0.27px) scaleX(0.9515);">Here&#x27;s what&#x27;s happening with your Tharavad today.</div>
<div class="a" style="left:224.3px;top:73.300px;width:22.400px;height:22.400px;border-radius:50%;background:#e8eafc;box-shadow:0 1px 7px rgba(140,90,120,.16)"></div>
<div class="a" style="left:225.8px;top:74.800px;width:19.400px;height:19.400px;border-radius:50%;background:linear-gradient(90deg,#7c5887,#4d3059)"></div>
<svg class="ic" style="left:224.50px;top:72.20px;width:23px;height:23px;" viewBox="0 0 16 16" fill="#f4eef4"><path d="M4.646 4.646a.5.5 0 0 1 .708 0L8 7.293l2.646-2.647a.5.5 0 0 1 .708.708L8.707 8l2.647 2.646a.5.5 0 0 1-.708.708L8 8.707l-2.646 2.647a.5.5 0 0 1-.708-.708L7.293 8 4.646 5.354a.5.5 0 0 1 0-.708"/></svg>
<div class="a" style="left:1543px;top:43px;width:158px;height:42px;border-radius:9px;background:#f8f9fb;border:1px solid #e6e8ef"></div>
<svg class="ic" style="left:1554.90px;top:56.60px;width:14.2px;height:14.2px;" viewBox="0 0 16 16" fill="#3a3a4a"><path d="M14 0H2a2 2 0 0 0-2 2v12a2 2 0 0 0 2 2h12a2 2 0 0 0 2-2V2a2 2 0 0 0-2-2M1 3.857C1 3.384 1.448 3 2 3h12c.552 0 1 .384 1 .857v10.286c0 .473-.448.857-1 .857H2c-.552 0-1-.384-1-.857z"/><path d="M6.5 7a1 1 0 1 0 0-2 1 1 0 0 0 0 2m3 0a1 1 0 1 0 0-2 1 1 0 0 0 0 2m3 0a1 1 0 1 0 0-2 1 1 0 0 0 0 2m-9 3a1 1 0 1 0 0-2 1 1 0 0 0 0 2m3 0a1 1 0 1 0 0-2 1 1 0 0 0 0 2m3 0a1 1 0 1 0 0-2 1 1 0 0 0 0 2m3 0a1 1 0 1 0 0-2 1 1 0 0 0 0 2m-9 3a1 1 0 1 0 0-2 1 1 0 0 0 0 2m3 0a1 1 0 1 0 0-2 1 1 0 0 0 0 2m3 0a1 1 0 1 0 0-2 1 1 0 0 0 0 2"/></svg>
<div class="t" style="left:1572px;top:58.81px;font-size:14.4px;color:#2a2a3a;-webkit-text-stroke:0.30px #2a2a3a;transform:translateX(0.75px) scaleX(0.9009);">Year:</div>
<div class="a" style="left:1609px;top:49px;width:80px;height:29px;border-radius:6px;background:#fff;border:1px solid #dcdfe4"></div>
<div class="t" style="left:1617px;top:57.15px;font-size:14px;color:#212529;transform:translateX(0.94px) scaleX(0.9418);">2026</div>
<svg class="ic" style="left:1664px;top:58.500px;width:11px;height:11px" viewBox="0 0 16 16" fill="none" stroke="#343a40" stroke-width="2.2" stroke-linecap="round" stroke-linejoin="round"><path d="m2 5 6 6 6-6"/></svg>
<div class="a g" style="left:1724px;top:45px;width:158px;height:38px;border-radius:19px;box-shadow:0 4px 12px rgba(74,45,85,.16)"></div>
<svg class="ic" style="left:1735.05px;top:55.75px;width:15.5px;height:15.5px;stroke:#fff;stroke-width:0.5;" viewBox="0 0 16 16" fill="#fff"><path d="M10 13.5a.5.5 0 0 0 .5.5h1a.5.5 0 0 0 .5-.5v-6a.5.5 0 0 0-.5-.5h-1a.5.5 0 0 0-.5.5zm-2.5.5a.5.5 0 0 1-.5-.5v-4a.5.5 0 0 1 .5-.5h1a.5.5 0 0 1 .5.5v4a.5.5 0 0 1-.5.5zm-3 0a.5.5 0 0 1-.5-.5v-2a.5.5 0 0 1 .5-.5h1a.5.5 0 0 1 .5.5v2a.5.5 0 0 1-.5.5z"/><path d="M14 14V4.5L9.5 0H4a2 2 0 0 0-2 2v12a2 2 0 0 0 2 2h8a2 2 0 0 0 2-2M9.5 3A1.5 1.5 0 0 0 11 4.5h2V14a1 1 0 0 1-1 1H4a1 1 0 0 1-1-1V2a1 1 0 0 1 1-1h5.5z"/></svg>
<div class="t" style="left:1758px;top:56.96px;font-size:15.4px;color:#fff;-webkit-text-stroke:0.55px #fff;transform:translateX(0.81px) scaleX(0.9762);">Generate Report</div>
<div class="a" style="left:253.0px;top:128px;width:389.75px;height:123px;border-radius:12px;background:rgba(255,255,255,.92);border:1px solid #c9c9c9;border-left:3.500px solid #8a6895"></div>
<div class="a" style="left:271.0px;top:144px;width:34px;height:34px;border-radius:9px;background:linear-gradient(90deg,#8f6c9a,#4a2d55)"></div>
<svg class="ic" style="left:278.70px;top:149.30px;width:19.6px;height:19.6px;stroke:#fff;stroke-width:0.25;" viewBox="0 0 16 16" fill="#fff"><path d="M7 14s-1 0-1-1 1-4 5-4 5 3 5 4-1 1-1 1zm4-6a3 3 0 1 0 0-6 3 3 0 0 0 0 6m-5.784 6A2.24 2.24 0 0 1 5 13c0-1.355.68-2.75 1.936-3.72A6.3 6.3 0 0 0 5 9c-4 0-5 3-5 4s1 1 1 1zM4.5 8a2.5 2.5 0 1 0 0-5 2.5 2.5 0 0 0 0 5"/></svg>
<div class="t lab" style="left:271px;top:187.96px;font-size:15.4px;color:#626970;transform:translateX(0.15px) scaleX(1.0056);">Total Members</div>
<div class="t" style="left:271px;top:213.93px;font-size:17.8px;color:#212529;-webkit-text-stroke:0.75px #212529;transform:translateX(0.36px);">7</div>
<div class="a" style="left:666.2px;top:128px;width:389.75px;height:123px;border-radius:12px;background:rgba(255,255,255,.92);border:1px solid #c9c9c9;border-left:3.500px solid #8a6895"></div>
<div class="a" style="left:684.2px;top:144px;width:34px;height:34px;border-radius:9px;background:linear-gradient(90deg,#8f6c9a,#4a2d55)"></div>
<svg class="ic" style="left:691.20px;top:149.80px;width:18.6px;height:18.6px;stroke:#fff;stroke-width:0.7;" viewBox="0 0 16 16" fill="#fff"><path d="M4 3.06h2.726c1.22 0 2.12.575 2.325 1.724H4v1.051h5.051C8.855 7.001 8 7.558 6.788 7.558H4v1.317L8.437 14h2.11L6.095 8.884h.855c2.316-.018 3.465-1.476 3.688-3.049H12V4.784h-1.345c-.08-.778-.357-1.335-.793-1.732H12V2H4z"/></svg>
<div class="t lab" style="left:684px;top:187.96px;font-size:15.4px;color:#626970;transform:translateX(0.36px) scaleX(0.9857);">Total Income (2026)</div>
<div class="t" style="left:684px;top:213.93px;font-size:17.8px;color:#198754;-webkit-text-stroke:0.75px #198754;transform:translateX(0.48px) scaleX(0.9630);"><span class="rs" style="font-size:15.66px">₹</span>10001.00</div>
<div class="a" style="left:1079.25px;top:128px;width:389.75px;height:123px;border-radius:12px;background:rgba(255,255,255,.92);border:1px solid #c9c9c9;border-left:3.500px solid #8a6895"></div>
<div class="a" style="left:1097.25px;top:144px;width:34px;height:34px;border-radius:9px;background:linear-gradient(90deg,#8f6c9a,#4a2d55)"></div>
<svg class="ic" style="left:1104.25px;top:149.80px;width:18.6px;height:18.6px;stroke:#fff;stroke-width:0.7;" viewBox="0 0 16 16" fill="#fff"><path d="M4 3.06h2.726c1.22 0 2.12.575 2.325 1.724H4v1.051h5.051C8.855 7.001 8 7.558 6.788 7.558H4v1.317L8.437 14h2.11L6.095 8.884h.855c2.316-.018 3.465-1.476 3.688-3.049H12V4.784h-1.345c-.08-.778-.357-1.335-.793-1.732H12V2H4z"/></svg>
<div class="t lab" style="left:1097px;top:187.96px;font-size:15.4px;color:#626970;transform:translateX(0.42px) scaleX(0.9490);">Total Expenses (2026)</div>
<div class="t" style="left:1097px;top:213.93px;font-size:17.8px;color:#dc3545;-webkit-text-stroke:0.75px #dc3545;transform:translateX(0.50px) scaleX(1.0246);"><span class="rs" style="font-size:15.66px">₹</span>2500.00</div>
<div class="a" style="left:1492.25px;top:128px;width:389.75px;height:122px;border-radius:12px;background:rgba(255,255,255,.92);border:1px solid #c9c9c9;border-left:3.500px solid #8a6895"></div>
<div class="a" style="left:1510.25px;top:144px;width:34px;height:34px;border-radius:9px;background:linear-gradient(90deg,#8f6c9a,#4a2d55)"></div>
<svg class="ic" style="left:1516.85px;top:149.90px;width:19.2px;height:19.2px;stroke:#fff;stroke-width:0.25;" viewBox="0 0 16 16" fill="#fff"><path d="M4.54.146A.5.5 0 0 1 4.893 0h6.214a.5.5 0 0 1 .353.146l4.394 4.394a.5.5 0 0 1 .146.353v6.214a.5.5 0 0 1-.146.353l-4.394 4.394a.5.5 0 0 1-.353.146H4.893a.5.5 0 0 1-.353-.146L.146 11.46A.5.5 0 0 1 0 11.107V4.893a.5.5 0 0 1 .146-.353zM5.1 1 1 5.1v5.8L5.1 15h5.8l4.1-4.1V5.1L10.9 1z"/><path d="M7.002 11a1 1 0 1 1 2 0 1 1 0 0 1-2 0M7.1 4.995a.905.905 0 1 1 1.8 0l-.35 3.507a.552.552 0 0 1-1.1 0z"/></svg>
<div class="t lab" style="left:1509px;top:187.96px;font-size:15.4px;color:#626970;transform:translateX(0.50px) scaleX(0.9923);">Pending Collections</div>
<div class="t" style="left:1510px;top:213.93px;font-size:17.8px;color:#ffc107;-webkit-text-stroke:0.75px #ffc107;transform:translateX(0.52px);"><span class="rs" style="font-size:15.66px">₹</span>51000.00</div>
<div class="a" style="left:253px;top:288px;width:1078.500px;height:338px;border-radius:13px;background:rgba(255,255,255,.9);border:1px solid #c9c9c9;overflow:hidden"><div style="height:38px;background:#f6f6f4;border-bottom:1px solid #cdcdcd"></div></div>
<div class="t" style="left:269px;top:298.68px;font-size:18.1px;color:#212529;-webkit-text-stroke:0.30px #212529;transform:translateX(0.84px) scaleX(1.0471);">Yearly Collection Overview</div>
<svg class="a" style="left:0;top:0;width:1919px;height:916px;pointer-events:none" viewBox="0 0 1919 916"><line x1="315.5" y1="351.50" x2="1315.0" y2="351.50" stroke="#eceef6" stroke-width="1"/><line x1="315.5" y1="389.83" x2="1315.0" y2="389.83" stroke="#eceef6" stroke-width="1"/><line x1="315.5" y1="428.17" x2="1315.0" y2="428.17" stroke="#eceef6" stroke-width="1"/><line x1="315.5" y1="466.50" x2="1315.0" y2="466.50" stroke="#eceef6" stroke-width="1"/><line x1="315.5" y1="504.83" x2="1315.0" y2="504.83" stroke="#eceef6" stroke-width="1"/><line x1="315.5" y1="543.17" x2="1315.0" y2="543.17" stroke="#eceef6" stroke-width="1"/><line x1="315.5" y1="581.50" x2="1315.0" y2="581.50" stroke="#dcdce6" stroke-width="1"/><line x1="322.5" y1="351.5" x2="322.5" y2="582.0" stroke="#e2e2ea" stroke-width="1"/><path d="M1172.8 581.5 V395.5 Q1172.8 390.5 1177.8 390.5 H1204.7 Q1209.7 390.5 1209.7 395.5 V581.5 Z" fill="#9b77a4"/><path d="M1172.8 581.5 V395.5 Q1172.8 390.5 1177.8 390.5 H1204.7 Q1209.7 390.5 1209.7 395.5 V581.5" fill="none" stroke="#5f4da4" stroke-width="1"/></svg>
<div class="t" style="left:271px;top:346.69px;font-size:11px;color:#666;font-weight:700;transform:translateX(0.45px) scaleX(1.0106);"><span class="rs" style="font-size:9.90px">₹</span>12,000</div>
<div class="t" style="left:271px;top:384.69px;font-size:11px;color:#666;font-weight:700;transform:translateX(0.45px) scaleX(1.0106);"><span class="rs" style="font-size:9.90px">₹</span>10,000</div>
<div class="t" style="left:277px;top:423.69px;font-size:11px;color:#666;font-weight:700;transform:translateX(0.99px);"><span class="rs" style="font-size:9.90px">₹</span>8,000</div>
<div class="t" style="left:277px;top:461.69px;font-size:11px;color:#666;font-weight:700;transform:translateX(0.99px);"><span class="rs" style="font-size:9.90px">₹</span>6,000</div>
<div class="t" style="left:277px;top:499.69px;font-size:11px;color:#666;font-weight:700;transform:translateX(0.99px);"><span class="rs" style="font-size:9.90px">₹</span>4,000</div>
<div class="t" style="left:277px;top:538.69px;font-size:11px;color:#666;font-weight:700;transform:translateX(0.99px);"><span class="rs" style="font-size:9.90px">₹</span>2,000</div>
<div class="t" style="left:299px;top:576.69px;font-size:11px;color:#666;font-weight:700;transform:translateX(0.40px);"><span class="rs" style="font-size:9.90px">₹</span>0</div>
<div class="t" style="left:434px;top:593.69px;font-size:11px;color:#666;font-weight:700;transform:translateX(0.33px);">2023</div>
<div class="t" style="left:682px;top:593.69px;font-size:11px;color:#666;font-weight:700;transform:translateX(0.28px);">2024</div>
<div class="t" style="left:930px;top:593.69px;font-size:11px;color:#666;font-weight:700;transform:translateX(0.53px);">2025</div>
<div class="t" style="left:1178px;top:593.69px;font-size:11px;color:#666;font-weight:700;transform:translateX(0.70px);">2026</div>
<div class="a g" style="left:1354px;top:288px;width:528px;height:338px;border-radius:14px;overflow:hidden"><div style="height:38px;background:rgba(0,0,0,.03);border-bottom:1px solid rgba(0,0,0,.16)"></div><div class="a" style="left:14px;top:336px;width:500px;height:40px;border:1px solid rgba(255,255,255,.25);border-radius:10px"></div></div>
<svg class="ic" style="left:1369.10px;top:295.70px;width:19.2px;height:19.2px;stroke:#fff;stroke-width:0.35;" viewBox="0 0 16 16" fill="#fff"><path d="M11 6.5a.5.5 0 0 1 .5-.5h1a.5.5 0 0 1 .5.5v1a.5.5 0 0 1-.5.5h-1a.5.5 0 0 1-.5-.5z"/><path d="M3.5 0a.5.5 0 0 1 .5.5V1h8V.5a.5.5 0 0 1 1 0V1h1a2 2 0 0 1 2 2v11a2 2 0 0 1-2 2H2a2 2 0 0 1-2-2V3a2 2 0 0 1 2-2h1V.5a.5.5 0 0 1 .5-.5M1 4v10a1 1 0 0 0 1 1h12a1 1 0 0 0 1-1V4z"/></svg>
<div class="t" style="left:1392px;top:297.42px;font-size:18.4px;color:#fff;-webkit-text-stroke:0.65px #fff;transform:translateX(0.46px) scaleX(1.0371);">Upcoming Events</div>
<div class="a" style="left:1368px;top:341.0px;width:500px;height:83px;border:1px solid rgba(255,255,255,.22);border-radius:10px;background:rgba(255,255,255,.008)"></div>
<div class="t" style="left:1383px;top:352.32px;font-size:13.8px;color:#fff;-webkit-text-stroke:0.70px #fff;transform:translateX(0.86px) scaleX(1.0681);">Puthari Maholtsavam</div>
<svg class="ic" style="left:1384.00px;top:373.40px;width:14px;height:14px;stroke:#fff;stroke-width:0.3;" viewBox="0 0 16 16" fill="#fff"><path d="M11 6.5a.5.5 0 0 1 .5-.5h1a.5.5 0 0 1 .5.5v1a.5.5 0 0 1-.5.5h-1a.5.5 0 0 1-.5-.5z"/><path d="M3.5 0a.5.5 0 0 1 .5.5V1h8V.5a.5.5 0 0 1 1 0V1h1a2 2 0 0 1 2 2v11a2 2 0 0 1-2 2H2a2 2 0 0 1-2-2V3a2 2 0 0 1 2-2h1V.5a.5.5 0 0 1 .5-.5M1 4v10a1 1 0 0 0 1 1h12a1 1 0 0 0 1-1V4z"/></svg>
<div class="t" style="left:1400px;top:374.32px;font-size:13.8px;color:#fff;font-weight:700;-webkit-text-stroke:0.40px #fff;transform:translateX(0.20px) scaleX(0.9672);">Mar 28, 2026</div>
<svg class="ic" style="left:1384.10px;top:397.90px;width:13.8px;height:13.8px;stroke:#fff;stroke-width:0.3;" viewBox="0 0 16 16" fill="#fff"><path d="M8 3.5a.5.5 0 0 0-1 0V9a.5.5 0 0 0 .252.434l3.5 2a.5.5 0 0 0 .496-.868L8 8.71z"/><path d="M8 16A8 8 0 1 0 8 0a8 8 0 0 0 0 16m7-8A7 7 0 1 1 1 8a7 7 0 0 1 14 0"/></svg>
<div class="t" style="left:1400px;top:399.32px;font-size:13.8px;color:#fff;-webkit-text-stroke:0.30px #fff;transform:translateX(0.45px) scaleX(0.9432);">14 days remaining</div>
<div class="a" style="left:1368px;top:435.0px;width:500px;height:83px;border:1px solid rgba(255,255,255,.22);border-radius:10px;background:rgba(255,255,255,.008)"></div>
<div class="t" style="left:1383px;top:447.32px;font-size:13.8px;color:#fff;-webkit-text-stroke:0.70px #fff;transform:translateX(0.87px) scaleX(1.0601);">NagaThambilam</div>
<svg class="ic" style="left:1384.00px;top:467.70px;width:14px;height:14px;stroke:#fff;stroke-width:0.3;" viewBox="0 0 16 16" fill="#fff"><path d="M11 6.5a.5.5 0 0 1 .5-.5h1a.5.5 0 0 1 .5.5v1a.5.5 0 0 1-.5.5h-1a.5.5 0 0 1-.5-.5z"/><path d="M3.5 0a.5.5 0 0 1 .5.5V1h8V.5a.5.5 0 0 1 1 0V1h1a2 2 0 0 1 2 2v11a2 2 0 0 1-2 2H2a2 2 0 0 1-2-2V3a2 2 0 0 1 2-2h1V.5a.5.5 0 0 1 .5-.5M1 4v10a1 1 0 0 0 1 1h12a1 1 0 0 0 1-1V4z"/></svg>
<div class="t" style="left:1400px;top:468.32px;font-size:13.8px;color:#fff;font-weight:700;-webkit-text-stroke:0.40px #fff;transform:translateX(0.76px) scaleX(0.9447);">Apr 05, 2026</div>
<svg class="ic" style="left:1384.10px;top:492.50px;width:13.8px;height:13.8px;stroke:#fff;stroke-width:0.3;" viewBox="0 0 16 16" fill="#fff"><path d="M8 3.5a.5.5 0 0 0-1 0V9a.5.5 0 0 0 .252.434l3.5 2a.5.5 0 0 0 .496-.868L8 8.71z"/><path d="M8 16A8 8 0 1 0 8 0a8 8 0 0 0 0 16m7-8A7 7 0 1 1 1 8a7 7 0 0 1 14 0"/></svg>
<div class="t" style="left:1400px;top:493.32px;font-size:13.8px;color:#fff;-webkit-text-stroke:0.30px #fff;transform:translateX(0.78px) scaleX(0.9501);">22 days remaining</div>
<div class="a" style="left:1368px;top:530.0px;width:500px;height:83px;border:1px solid rgba(255,255,255,.22);border-radius:10px;background:rgba(255,255,255,.008)"></div>
<div class="t" style="left:1384px;top:541.32px;font-size:13.8px;color:#fff;-webkit-text-stroke:0.70px #fff;transform:translateX(0.74px) scaleX(1.0347);">TheyyamKett</div>
<svg class="ic" style="left:1384.00px;top:561.80px;width:14px;height:14px;stroke:#fff;stroke-width:0.3;" viewBox="0 0 16 16" fill="#fff"><path d="M11 6.5a.5.5 0 0 1 .5-.5h1a.5.5 0 0 1 .5.5v1a.5.5 0 0 1-.5.5h-1a.5.5 0 0 1-.5-.5z"/><path d="M3.5 0a.5.5 0 0 1 .5.5V1h8V.5a.5.5 0 0 1 1 0V1h1a2 2 0 0 1 2 2v11a2 2 0 0 1-2 2H2a2 2 0 0 1-2-2V3a2 2 0 0 1 2-2h1V.5a.5.5 0 0 1 .5-.5M1 4v10a1 1 0 0 0 1 1h12a1 1 0 0 0 1-1V4z"/></svg>
<div class="t" style="left:1400px;top:563.32px;font-size:13.8px;color:#fff;font-weight:700;-webkit-text-stroke:0.40px #fff;transform:translateX(0.56px) scaleX(0.9389);">Oct 28, 2026</div>
<svg class="ic" style="left:1384.10px;top:586.80px;width:13.8px;height:13.8px;stroke:#fff;stroke-width:0.3;" viewBox="0 0 16 16" fill="#fff"><path d="M8 3.5a.5.5 0 0 0-1 0V9a.5.5 0 0 0 .252.434l3.5 2a.5.5 0 0 0 .496-.868L8 8.71z"/><path d="M8 16A8 8 0 1 0 8 0a8 8 0 0 0 0 16m7-8A7 7 0 1 1 1 8a7 7 0 0 1 14 0"/></svg>
<div class="t" style="left:1400px;top:588.32px;font-size:13.8px;color:#fff;-webkit-text-stroke:0.30px #fff;transform:translateX(0.78px) scaleX(0.9485);">228 days remaining</div>
<div class="a" style="left:253px;top:650px;width:1629px;height:300px;border-radius:11px;background:rgba(255,255,255,.9);border:1px solid #cfcfcf"></div>
<div class="a g" style="left:254px;top:650px;width:1627px;height:37.500px;border-radius:10.500px 10.500px 0 0;box-shadow:inset 0 -1px 0 rgba(0,0,0,.13)"></div>
<svg class="ic" style="left:269.20px;top:657.50px;width:19.6px;height:19.6px;" viewBox="0 0 16 16" fill="#fff"><path fill-rule="evenodd" d="M0 0h1v15h15v1H0zm10 3.5a.5.5 0 0 1 .5-.5h4a.5.5 0 0 1 .5.5v4a.5.5 0 0 1-1 0V4.9l-3.613 4.417a.5.5 0 0 1-.74.037L7.06 6.767l-3.656 5.027a.5.5 0 0 1-.808-.588l4-5.5a.5.5 0 0 1 .758-.06l2.609 2.61L13.445 4H10.5a.5.5 0 0 1-.5-.5"/></svg>
<div class="t" style="left:294px;top:660.42px;font-size:18.4px;color:#fff;-webkit-text-stroke:0.65px #fff;transform:translateX(0.82px);">Income vs Expenses (2026)</div>
<div class="a" style="left:993.8px;top:720.400px;width:14px;height:14px;border-radius:50%;background:#9b77a6"></div>
<div class="t" style="left:1011px;top:721.69px;font-size:11px;color:#666;font-weight:700;transform:translateX(0.74px) scaleX(1.0347);">Income</div>
<div class="a" style="left:1069px;top:720.400px;width:14px;height:14px;border-radius:50%;background:#ee4040"></div>
<div class="t" style="left:1087px;top:721.69px;font-size:11px;color:#666;font-weight:700;transform:translateX(0.04px) scaleX(1.0281);">Expenses</div>
<svg class="a" style="left:0;top:0;width:1919px;height:916px;pointer-events:none" viewBox="0 0 1919 916"><line x1="312.0" y1="742.50" x2="1853.5" y2="742.50" stroke="#eeeeee" stroke-width="1"/><line x1="312.0" y1="765.75" x2="1853.5" y2="765.75" stroke="#eeeeee" stroke-width="1"/><line x1="312.0" y1="789.00" x2="1853.5" y2="789.00" stroke="#eeeeee" stroke-width="1"/><line x1="312.0" y1="812.25" x2="1853.5" y2="812.25" stroke="#eeeeee" stroke-width="1"/><line x1="312.0" y1="835.50" x2="1853.5" y2="835.50" stroke="#eeeeee" stroke-width="1"/><line x1="312.0" y1="858.75" x2="1853.5" y2="858.75" stroke="#eeeeee" stroke-width="1"/><line x1="312.0" y1="882.00" x2="1853.5" y2="882.00" stroke="#eeeeee" stroke-width="1"/><line x1="319.5" y1="742.5" x2="319.5" y2="882.0" stroke="#e4e4e4" stroke-width="1"/><path d="M319.50 882.00 C375.28 882.00 410.49 882.00 458.95 882.00 C522.05 855.70 542.63 765.75 598.41 765.75 C654.19 765.75 674.77 855.70 737.86 882.00 C786.33 882.00 821.54 882.00 877.32 882.00 C933.10 882.00 960.99 882.00 1016.77 882.00 C1072.55 882.00 1100.45 882.00 1156.23 882.00 C1212.01 882.00 1239.90 882.00 1295.68 882.00 C1351.46 882.00 1379.35 882.00 1435.14 882.00 C1490.92 882.00 1518.81 882.00 1574.59 882.00 C1630.37 882.00 1658.26 882.00 1714.05 882.00 C1769.83 882.00 1797.72 882.00 1853.50 882.00 L1853.5 882.0 L319.5 882.0 Z" fill="rgba(40,167,69,.10)"/><path d="M319.50 882.00 C375.28 882.00 403.77 882.00 458.95 882.00 C515.33 876.13 542.63 852.94 598.41 852.94 C654.19 852.94 681.49 876.13 737.86 882.00 C793.05 882.00 821.54 882.00 877.32 882.00 C933.10 882.00 960.99 882.00 1016.77 882.00 C1072.55 882.00 1100.45 882.00 1156.23 882.00 C1212.01 882.00 1239.90 882.00 1295.68 882.00 C1351.46 882.00 1379.35 882.00 1435.14 882.00 C1490.92 882.00 1518.81 882.00 1574.59 882.00 C1630.37 882.00 1658.26 882.00 1714.05 882.00 C1769.83 882.00 1797.72 882.00 1853.50 882.00 L1853.5 882.0 L319.5 882.0 Z" fill="rgba(220,53,69,.10)"/><path d="M319.50 882.00 C375.28 882.00 403.77 882.00 458.95 882.00 C515.33 876.13 542.63 852.94 598.41 852.94 C654.19 852.94 681.49 876.13 737.86 882.00 C793.05 882.00 821.54 882.00 877.32 882.00 C933.10 882.00 960.99 882.00 1016.77 882.00 C1072.55 882.00 1100.45 882.00 1156.23 882.00 C1212.01 882.00 1239.90 882.00 1295.68 882.00 C1351.46 882.00 1379.35 882.00 1435.14 882.00 C1490.92 882.00 1518.81 882.00 1574.59 882.00 C1630.37 882.00 1658.26 882.00 1714.05 882.00 C1769.83 882.00 1797.72 882.00 1853.50 882.00" fill="none" stroke="#dc4a45" stroke-width="3" stroke-linejoin="round"/><path d="M319.50 882.00 C375.28 882.00 410.49 882.00 458.95 882.00 C522.05 855.70 542.63 765.75 598.41 765.75 C654.19 765.75 674.77 855.70 737.86 882.00 C786.33 882.00 821.54 882.00 877.32 882.00 C933.10 882.00 960.99 882.00 1016.77 882.00 C1072.55 882.00 1100.45 882.00 1156.23 882.00 C1212.01 882.00 1239.90 882.00 1295.68 882.00 C1351.46 882.00 1379.35 882.00 1435.14 882.00 C1490.92 882.00 1518.81 882.00 1574.59 882.00 C1630.37 882.00 1658.26 882.00 1714.05 882.00 C1769.83 882.00 1797.72 882.00 1853.50 882.00" fill="none" stroke="#9b77a6" stroke-width="3" stroke-linejoin="round"/><circle cx="598.41" cy="852.94" r="4.4" fill="#dc4a45" stroke="#fff" stroke-width="1.6"/><circle cx="319.50" cy="882.00" r="4.4" fill="#9b77a6" stroke="#fff" stroke-width="1.6"/><circle cx="458.95" cy="882.00" r="4.4" fill="#9b77a6" stroke="#fff" stroke-width="1.6"/><circle cx="598.41" cy="765.75" r="4.4" fill="#9b77a6" stroke="#fff" stroke-width="1.6"/><circle cx="737.86" cy="882.00" r="4.4" fill="#9b77a6" stroke="#fff" stroke-width="1.6"/><circle cx="877.32" cy="882.00" r="4.4" fill="#9b77a6" stroke="#fff" stroke-width="1.6"/><circle cx="1016.77" cy="882.00" r="4.4" fill="#9b77a6" stroke="#fff" stroke-width="1.6"/><circle cx="1156.23" cy="882.00" r="4.4" fill="#9b77a6" stroke="#fff" stroke-width="1.6"/><circle cx="1295.68" cy="882.00" r="4.4" fill="#9b77a6" stroke="#fff" stroke-width="1.6"/><circle cx="1435.14" cy="882.00" r="4.4" fill="#9b77a6" stroke="#fff" stroke-width="1.6"/><circle cx="1574.59" cy="882.00" r="4.4" fill="#9b77a6" stroke="#fff" stroke-width="1.6"/><circle cx="1714.05" cy="882.00" r="4.4" fill="#9b77a6" stroke="#fff" stroke-width="1.6"/><circle cx="1853.50" cy="882.00" r="4.4" fill="#9b77a6" stroke="#fff" stroke-width="1.6"/></svg>
<div class="t" style="left:271px;top:737.53px;font-size:10px;color:#5e5e5e;-webkit-text-stroke:0.18px #5e5e5e;transform:translateX(0.26px) scaleX(1.0322);"><span class="rs" style="font-size:9.00px">₹</span>12,000</div>
<div class="t" style="left:271px;top:760.53px;font-size:10px;color:#5e5e5e;-webkit-text-stroke:0.18px #5e5e5e;transform:translateX(0.26px) scaleX(1.0322);"><span class="rs" style="font-size:9.00px">₹</span>10,000</div>
<div class="t" style="left:277px;top:784.53px;font-size:10px;color:#5e5e5e;-webkit-text-stroke:0.18px #5e5e5e;transform:translateX(0.98px);"><span class="rs" style="font-size:9.00px">₹</span>8,000</div>
<div class="t" style="left:277px;top:807.53px;font-size:10px;color:#5e5e5e;-webkit-text-stroke:0.18px #5e5e5e;transform:translateX(0.98px);"><span class="rs" style="font-size:9.00px">₹</span>6,000</div>
<div class="t" style="left:277px;top:830.53px;font-size:10px;color:#5e5e5e;-webkit-text-stroke:0.18px #5e5e5e;transform:translateX(0.98px);"><span class="rs" style="font-size:9.00px">₹</span>4,000</div>
<div class="t" style="left:277px;top:853.53px;font-size:10px;color:#5e5e5e;-webkit-text-stroke:0.18px #5e5e5e;transform:translateX(0.98px);"><span class="rs" style="font-size:9.00px">₹</span>2,000</div>
<div class="t" style="left:297px;top:877.53px;font-size:10px;color:#5e5e5e;-webkit-text-stroke:0.18px #5e5e5e;transform:translateX(0.45px);"><span class="rs" style="font-size:9.00px">₹</span>0</div>
<div class="t" style="left:311px;top:894.28px;font-size:10.3px;color:#5e5e5e;-webkit-text-stroke:0.18px #5e5e5e;transform:translateX(0.45px);">Jan</div>
<div class="t" style="left:449px;top:894.28px;font-size:10.3px;color:#5e5e5e;-webkit-text-stroke:0.18px #5e5e5e;transform:translateX(0.87px);">Feb</div>
<div class="t" style="left:589px;top:894.28px;font-size:10.3px;color:#5e5e5e;-webkit-text-stroke:0.18px #5e5e5e;transform:translateX(0.20px);">Mar</div>
<div class="t" style="left:729px;top:894.28px;font-size:10.3px;color:#5e5e5e;-webkit-text-stroke:0.18px #5e5e5e;transform:translateX(0.92px);">Apr</div>
<div class="t" style="left:867px;top:894.28px;font-size:10.3px;color:#5e5e5e;-webkit-text-stroke:0.18px #5e5e5e;transform:translateX(0.18px);">May</div>
<div class="t" style="left:1008px;top:894.28px;font-size:10.3px;color:#5e5e5e;-webkit-text-stroke:0.18px #5e5e5e;transform:translateX(0.72px);">Jun</div>
<div class="t" style="left:1149px;top:894.28px;font-size:10.3px;color:#5e5e5e;-webkit-text-stroke:0.18px #5e5e5e;transform:translateX(0.91px);">Jul</div>
<div class="t" style="left:1286px;top:894.28px;font-size:10.3px;color:#5e5e5e;-webkit-text-stroke:0.18px #5e5e5e;transform:translateX(0.84px);">Aug</div>
<div class="t" style="left:1425px;top:894.28px;font-size:10.3px;color:#5e5e5e;-webkit-text-stroke:0.18px #5e5e5e;transform:translateX(0.95px);">Sep</div>
<div class="t" style="left:1566px;top:894.28px;font-size:10.3px;color:#5e5e5e;-webkit-text-stroke:0.18px #5e5e5e;transform:translateX(0.37px);">Oct</div>
<div class="t" style="left:1704px;top:894.28px;font-size:10.3px;color:#5e5e5e;-webkit-text-stroke:0.18px #5e5e5e;transform:translateX(0.48px);">Nov</div>
<div class="t" style="left:1844px;top:894.28px;font-size:10.3px;color:#5e5e5e;-webkit-text-stroke:0.18px #5e5e5e;transform:translateX(0.06px);">Dec</div>
<div class="a" style="left:1901px;top:3px;width:18px;height:911px;background:#fafafb"></div>
<div class="a" style="left:1905.3px;top:25.500px;width:10.700px;height:498.500px;border-radius:5.500px;background:#8b8b8b"></div>
<svg class="a" style="left:1901px;top:3px;width:18px;height:911px" viewBox="0 0 18 911"><path d="M9.500 7 L15 15 H4 Z" fill="#8b8b8b" stroke="#8b8b8b" stroke-width="1.6" stroke-linejoin="round"/><path d="M9.500 906 L15 898 H4 Z" fill="#8b8b8b" stroke="#8b8b8b" stroke-width="1.6" stroke-linejoin="round"/></svg>
<div class="a" style="left:0;top:0;width:1919px;height:2px;background:#fff"></div>
<div class="a" style="left:0;top:2px;width:1919px;height:1px;background:#dfe1df"></div>
<div class="a" style="left:0;top:914px;width:1919px;height:1px;background:#b9aaa8"></div>
<div class="a" style="left:0;top:915px;width:1919px;height:1px;background:#f1dcd8"></div>
</div></body></html>
